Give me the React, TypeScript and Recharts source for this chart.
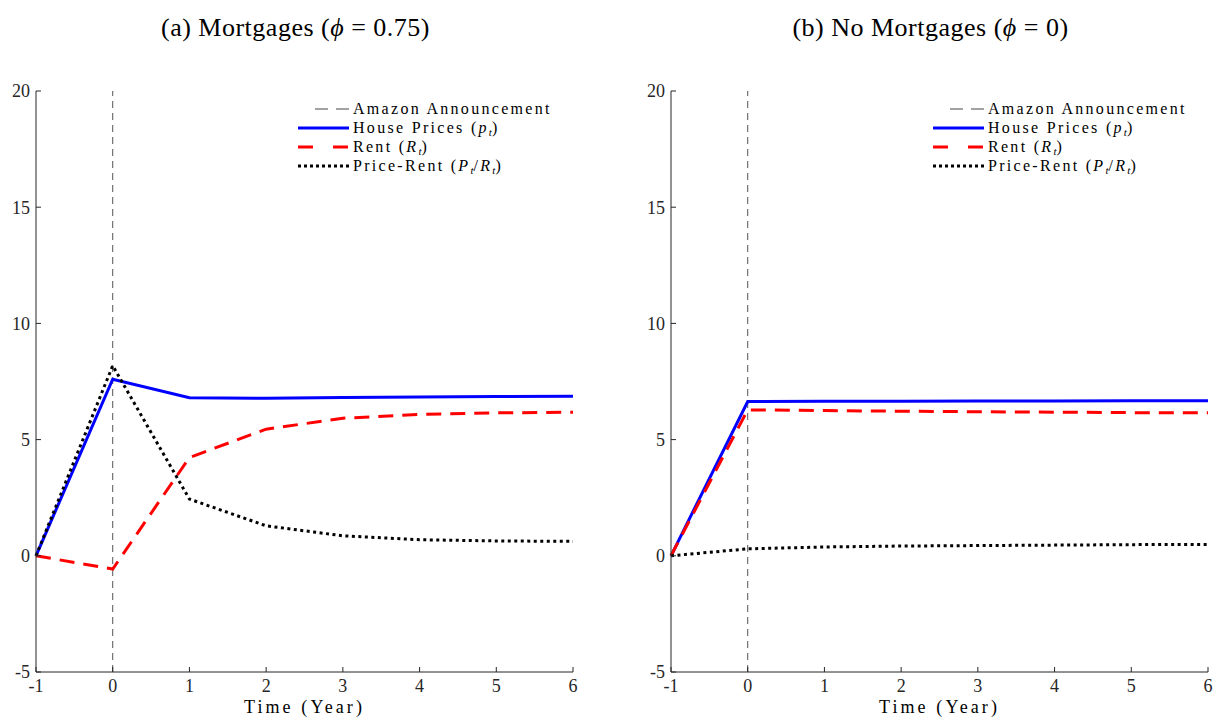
import React from 'react';
import { LineChart, Line, XAxis, YAxis, ReferenceLine, Legend } from 'recharts';

const years = [-1, 0, 1, 2, 3, 4, 5, 6];
const xTicks = [-1, 0, 1, 2, 3, 4, 5, 6];
const yTicks = [-5, 0, 5, 10, 15, 20];

// panel (a): mortgages, phi = 0.75
const mortHouse = [0, 7.6, 6.8, 6.78, 6.81, 6.83, 6.85, 6.86];
const mortRent = [0, -0.57, 4.23, 5.45, 5.92, 6.08, 6.15, 6.18];
const mortRatio = [0, 8.18, 2.44, 1.29, 0.86, 0.69, 0.64, 0.62];

// panel (b): no mortgages, phi = 0
const noMortHouse = [0, 6.64, 6.65, 6.65, 6.66, 6.66, 6.67, 6.67];
const noMortRent = [0, 6.28, 6.25, 6.22, 6.2, 6.18, 6.16, 6.15];
const noMortRatio = [0, 0.3, 0.38, 0.42, 0.44, 0.46, 0.48, 0.49];

const serif = '"Liberation Serif", "DejaVu Serif", serif';
const ink = '#262626';

const sub = (s: string) => (
  <span style={{ fontSize: 11, fontStyle: 'italic', letterSpacing: 0, position: 'relative', top: 3 }}>{s}</span>
);

const legendItems = [
  { key: 'ann', stroke: '#444', dash: '13 8', width: 1, x1: 17, label: <>Amazon Announcement</> },
  { key: 'house', stroke: '#0000ff', dash: undefined, width: 3, x1: 0, label: <>House Prices (<i>p</i>{sub('t')})</> },
  { key: 'rent', stroke: '#ff0000', dash: '15 20', width: 3, x1: 0, label: <>Rent (<i>R</i>{sub('t')})</> },
  { key: 'ratio', stroke: '#000', dash: '3 3', width: 3, x1: 0, label: <>Price-Rent (<i>P</i>{sub('t')}/<i>R</i>{sub('t')})</> },
];

function LegendBox() {
  return (
    <div style={{ fontFamily: serif, fontSize: 16, letterSpacing: 2.3, color: '#000' }}>
      {legendItems.map((it) => (
        <div key={it.key} style={{ display: 'flex', alignItems: 'center', height: 18.9, whiteSpace: 'nowrap' }}>
          <svg width={55} height={10} style={{ flex: 'none' }}>
            <line x1={it.x1} x2={51} y1={5} y2={5} stroke={it.stroke} strokeWidth={it.width} strokeDasharray={it.dash} />
          </svg>
          <span>{it.label}</span>
        </div>
      ))}
    </div>
  );
}

function Panel({ title, house, rent, ratio, left }: any) {
  const data = years.map((y, i) => ({ year: y, house: house[i], rent: rent[i], ratio: ratio[i] }));
  const tickStyle = { fill: ink, fontSize: 18, fontFamily: serif };
  return (
    <div style={{ position: 'absolute', left, top: 0, width: 600, height: 717 }}>
      <div style={{ position: 'absolute', left: 0, top: 13, width: 591, textAlign: 'center', fontFamily: serif, fontSize: 26, lineHeight: '30px', letterSpacing: 0.5, color: '#000' }}>
        {title}
      </div>
      <LineChart width={600} height={717} data={data} margin={{ top: 91, right: 27, bottom: 0, left: 0 }}>
        <XAxis
          type="number"
          dataKey="year"
          domain={[-1, 6]}
          ticks={xTicks}
          interval={0}
          height={45}
          tickSize={-5}
          tickMargin={12}
          axisLine={{ stroke: ink }}
          tickLine={{ stroke: ink }}
          tick={tickStyle}
          label={{ value: 'Time (Year)', position: 'insideBottom', offset: 4, fill: '#000', fontSize: 18, fontFamily: serif, letterSpacing: 3.1 } as any}
        />
        <YAxis
          type="number"
          domain={[-5, 20]}
          ticks={yTicks}
          interval={0}
          width={36}
          tickSize={-5}
          tickMargin={11}
          axisLine={{ stroke: ink }}
          tickLine={{ stroke: ink }}
          tick={tickStyle}
        />
        <ReferenceLine x={0} stroke="#555" strokeDasharray="7 5" />
        <Line type="linear" dataKey="house" stroke="#0000ff" strokeWidth={3} dot={false} isAnimationActive={false} />
        <Line type="linear" dataKey="rent" stroke="#ff0000" strokeWidth={3} strokeDasharray="15 9" dot={false} isAnimationActive={false} />
        <Line type="linear" dataKey="ratio" stroke="#000" strokeWidth={3} strokeDasharray="3 3.5" dot={false} isAnimationActive={false} />
        <Legend
          layout="vertical"
          align="center"
          verticalAlign="middle"
          content={() => <LegendBox />}
          wrapperStyle={{ left: 298, top: 99.5, width: 'auto', height: 'auto', bottom: 'auto', right: 'auto' }}
        />
      </LineChart>
    </div>
  );
}

export default function App() {
  return (
    <div style={{ position: 'absolute', left: 0, top: 0, width: 1214, height: 717, background: '#fff' }}>
      <Panel
        left={0}
        title={<>(a) Mortgages (<i>ϕ</i> = 0.75)</>}
        house={mortHouse}
        rent={mortRent}
        ratio={mortRatio}
      />
      <Panel
        left={635}
        title={<>(b) No Mortgages (<i>ϕ</i> = 0)</>}
        house={noMortHouse}
        rent={noMortRent}
        ratio={noMortRatio}
      />
    </div>
  );
}
